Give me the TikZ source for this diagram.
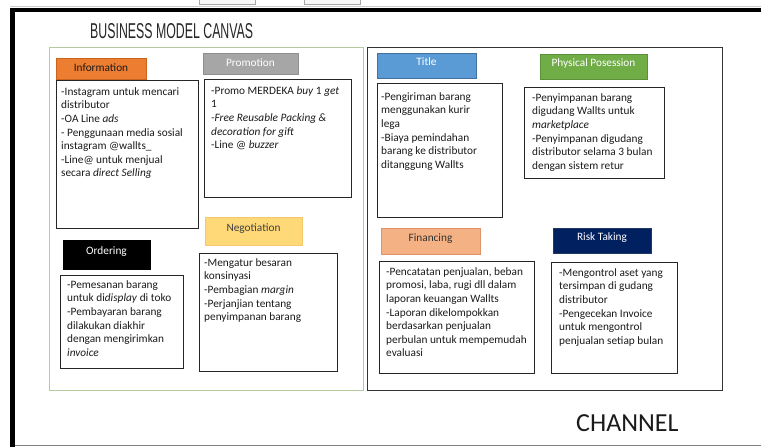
\documentclass[tikz,border=0pt]{standalone}
\usepackage{fontspec}
\setmainfont{Carlito}
\newfontfamily\titlefont{Liberation Sans}
\usepackage{graphicx}
\definecolor{infoC}{HTML}{ED7D31}
\definecolor{infoE}{HTML}{C9641F}
\definecolor{promoC}{HTML}{A6A6A6}
\definecolor{promoE}{HTML}{8E8E8E}
\definecolor{negoC}{HTML}{FFD978}
\definecolor{negoE}{HTML}{F5C96A}
\definecolor{titleC}{HTML}{5B9BD5}
\definecolor{titleE}{HTML}{41719C}
\definecolor{ppC}{HTML}{70AD47}
\definecolor{ppE}{HTML}{5B8F38}
\definecolor{finC}{HTML}{F4B183}
\definecolor{finE}{HTML}{DE9468}
\definecolor{riskC}{HTML}{002060}
\definecolor{riskE}{HTML}{1F3864}
\definecolor{greenE}{HTML}{B4CBA0}
\definecolor{txt}{HTML}{1A1A1A}
\tikzset{
  cbox/.style={draw=black!85, line width=0.9pt, anchor=north west, inner sep=0pt, outer sep=0pt},
  ctext/.style={anchor=north west, inner sep=0pt, align=left, text=txt, font=\fontsize{11.3}{13.6}\selectfont},
  labup/.style={inner sep=0pt, outer sep=0pt, text height=6.5pt, text depth=6.5pt, font=\fontsize{11.3}{13.6}\selectfont, line width=0.8pt},
  labc/.style={inner sep=0pt, outer sep=0pt, text height=8pt, text depth=2pt, font=\fontsize{11.3}{13.6}\selectfont, line width=0.8pt},
}
\newcommand{\fs}{\rule{0pt}{9pt}}
\begin{document}
\begin{tikzpicture}[x=1pt,y=-1pt]
\useasboundingbox (0,0) rectangle (761,447);
% spreadsheet cells at top
\draw[gray!70, fill=gray!6, line width=0.6pt] (199,-2) rectangle (255,4);
\draw[gray!70, fill=gray!6, line width=0.6pt] (304,-2) rectangle (360,4);
\draw[gray!40, line width=0.8pt] (10,6.3) -- (761,6.3);
% frame
\draw[black, line width=4.5pt] (12.5,447) -- (12.5,10) -- (761,10);
\draw[gray, line width=1.3pt] (15,445.5) -- (761,445.5);
% title
\node[anchor=north west, inner sep=0pt, text=black!85] (bmc) at (90,23) {\resizebox{163pt}{15pt}{\titlefont BUSINESS MODEL CANVAS}};
% containers
\node[draw=greenE, line width=1.3pt, anchor=north west, inner sep=0pt, minimum width=314pt, minimum height=343pt] (left) at (49,47) {};
\node[draw=black!80, line width=1pt, anchor=north west, inner sep=0pt, minimum width=355pt, minimum height=343pt] (right) at (367,47) {};
% labels
\node[labc, fill=infoC, draw=infoE, text=txt, minimum width=90pt, minimum height=21pt] (infoL) at (101,68.5) {Information};
\node[labc, fill=promoC, draw=promoE, text=white, minimum width=95pt, minimum height=21pt] (promoL) at (250.5,63.5) {Promotion};
\node[labup, fill=negoC, draw=negoE, text=black!75, minimum width=97pt, minimum height=28pt] (negoL) at (253.5,231) {Negotiation};
\node[labup, fill=black, draw=black, text=white, minimum width=87pt, minimum height=29pt] (ordL) at (106.5,254.5) {Ordering};
\node[labup, fill=titleC, draw=titleE, text=white, minimum width=99pt, minimum height=25pt] (titleL) at (426.5,65.5) {Title};
\node[labup, fill=ppC, draw=ppE, text=white, minimum width=107pt, minimum height=25pt] (ppL) at (593.5,66.5) {Physical Posession};
\node[labup, fill=finC, draw=finE, text=black!80, minimum width=99pt, minimum height=26pt] (finL) at (430.5,241) {Financing};
\node[labup, fill=riskC, draw=riskE, text=white, minimum width=98pt, minimum height=25pt] (riskL) at (602,240.5) {Risk Taking};
% content boxes
\node[cbox, minimum width=142pt, minimum height=148pt] (infoB) at (56,80) {};
\node[cbox, minimum width=147pt, minimum height=118pt] (promoB) at (204,79) {};
\node[cbox, minimum width=138pt, minimum height=118pt] (negoB) at (199,253) {};
\node[cbox, minimum width=123pt, minimum height=93pt] (ordB) at (60,275) {};
\node[cbox, minimum width=125pt, minimum height=134pt] (titleB) at (377,83) {};
\node[cbox, minimum width=140pt, minimum height=91pt] (ppB) at (524,87) {};
\node[cbox, minimum width=155pt, minimum height=112pt] (finB) at (379,261) {};
\node[cbox, minimum width=126pt, minimum height=111pt] (riskB) at (551,262) {};
% texts
\node[ctext] (infoT) at (61,86) {\fs-Instagram untuk mencari\\distributor\\-OA Line \textit{ads}\\- Penggunaan media sosial\\instagram @wallts\_\\-Line@ untuk menjual\\secara \textit{direct Selling}};
\node[ctext] (promoT) at (211,85) {\fs-Promo MERDEKA \textit{buy} 1 \textit{get}\\1\\\textit{-Free Reusable Packing \&}\\\textit{decoration for gift}\\-Line @ \textit{buzzer}};
\node[ctext] (negoT) at (204,257) {\fs-Mengatur besaran\\konsinyasi\\-Pembagian \textit{margin}\\-Perjanjian tentang\\penyimpanan barang};
\node[ctext] (ordT) at (67,279) {\fs-Pemesanan barang\\untuk di\textit{display} di toko\\-Pembayaran barang\\dilakukan diakhir\\dengan mengirimkan\\\textit{invoice}};
\node[ctext] (titleT) at (381,91) {\fs-Pengiriman barang\\menggunakan kurir\\lega\\-Biaya pemindahan\\barang ke distributor\\ditanggung Wallts};
\node[ctext] (ppT) at (532,92) {\fs-Penyimpanan barang\\digudang Wallts untuk\\\textit{marketplace}\\-Penyimpanan digudang\\distributor selama 3 bulan\\dengan sistem retur};
\node[ctext] (finT) at (386,266) {\fs-Pencatatan penjualan, beban\\promosi, laba, rugi dll dalam\\laporan keuangan Wallts\\-Laporan dikelompokkan\\berdasarkan penjualan\\perbulan untuk mempemudah\\evaluasi};
\node[ctext] (riskT) at (559,267) {\fs-Mengontrol aset yang\\tersimpan di gudang\\distributor\\-Pengecekan Invoice\\untuk mengontrol\\penjualan setiap bulan};
% channel
\node[anchor=base west, inner sep=0pt, text=txt, font=\fontsize{26}{30}\selectfont] (chan) at (576,431) {CHANNEL};
\end{tikzpicture}
\end{document}
